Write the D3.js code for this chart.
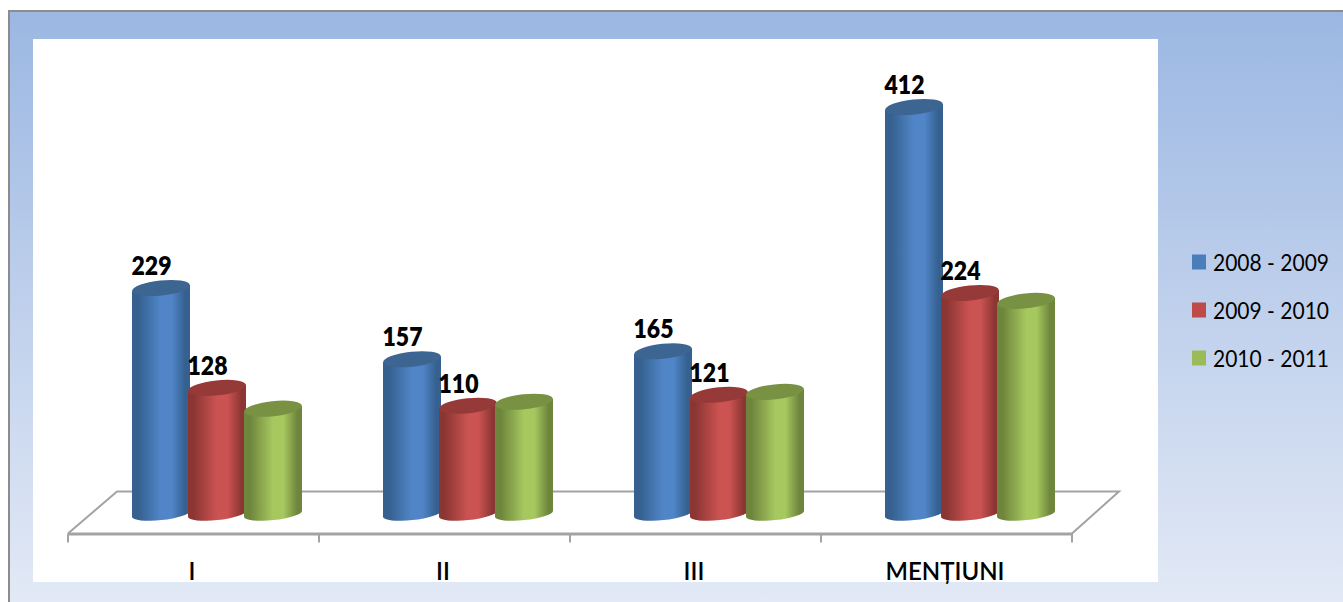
<!DOCTYPE html>
<html><head><meta charset="utf-8">
<script src="https://cdnjs.cloudflare.com/ajax/libs/d3/7.8.5/d3.min.js"></script>
<style>html,body{margin:0;padding:0;background:#fff;overflow:hidden}svg{display:block}text{font-family:Lato,"Open Sans",sans-serif}</style>
</head><body><div id="chart"></div>
<script>
const categories = ["I","II","III","MENȚIUNI"];
const seriesNames = ["2008 - 2009","2009 - 2010","2010 - 2011"];
const values0809 = [229,157,165,412];
const values0910 = [128,110,121,224];
const values1011 = [107,114,124,216];
const showLabels = [true,true,false];
const seriesColors = [
  {edge:"#35608f",mid:"#5086c8",top:"#3d6592",key:"#4a7ebb"},
  {edge:"#8c3634",mid:"#cb5351",top:"#953a38",key:"#be4b48"},
  {edge:"#6e853c",mid:"#a6c85f",top:"#789143",key:"#9bbb59"}
];
const allSeries = [values0809,values0910,values1011];

const W=1343,H=602;
const svg=d3.select("#chart").append("svg").attr("width",W).attr("height",H);
const defs=svg.append("defs");
const bg=defs.append("linearGradient").attr("id","bg").attr("x1",0).attr("x2",0).attr("y1",0).attr("y2",1);
bg.append("stop").attr("offset",0).attr("stop-color","#9bb7e2");
bg.append("stop").attr("offset",1).attr("stop-color","#e4eaf6");
seriesColors.forEach((c,i)=>{
  const g=defs.append("linearGradient").attr("id","cyl"+i);
  [[0,c.edge],[.1,c.edge],[.5,c.mid],[.68,c.mid],[.92,c.edge],[1,c.edge]].forEach(s=>
    g.append("stop").attr("offset",s[0]).attr("stop-color",s[1]));
});

// frame and panel
svg.append("rect").attr("x",9).attr("y",11).attr("width",W).attr("height",H)
  .attr("fill","url(#bg)").attr("stroke","#8c8c8c").attr("stroke-width",2);
svg.append("rect").attr("x",33).attr("y",39).attr("width",1125).attr("height",543).attr("fill","#fff");

const plot=svg.append("g");
const x=d3.scaleBand().domain(categories).range([68,1072]);
const y=d3.scaleLinear().domain([0,412]).range([514.5,107]);
const depthShift=24;
const barStep=56, r=29, ry=7.5, baseRy=6, tilt=-6;
const inner=d3.scaleBand().domain(d3.range(3)).range([-barStep*1.5,barStep*1.5]);
const dy=r*Math.sin(-tilt*Math.PI/180);

// floor
const floorFront=533.5, floorBack=491.5, floorColor="#a3a3a3";
const floor=plot.append("g").attr("fill","none").attr("stroke",floorColor);
floor.append("path").attr("stroke-width",2)
  .attr("d",d3.line()([[x.range()[0],floorFront],[x.range()[0]+49,floorBack],[x.range()[1]+47,floorBack],[x.range()[1],floorFront]]));

// axis
const axis=plot.append("g").attr("transform",`translate(0,${floorFront})`)
  .call(d3.axisBottom(x).tickSize(0).tickPadding(29));
axis.select(".domain").attr("stroke",floorColor).attr("stroke-width",3);
axis.selectAll("text").attr("font-size",24).attr("font-weight",600).attr("fill","#000").attr("font-family","Lato")
  .attr("dx",-1.5).attr("text-anchor","middle");
axis.selectAll(".bound").data(d3.range(categories.length+1)).enter().append("line").attr("class","bound")
  .attr("x1",i=>x.range()[0]+i*x.step()).attr("x2",i=>x.range()[0]+i*x.step())
  .attr("y1",0).attr("y2",9).attr("stroke",floorColor).attr("stroke-width",2);

// cylinders
const groups=plot.selectAll(".cat").data(categories).enter().append("g").attr("class","cat")
  .attr("transform",d=>`translate(${x(d)+x.bandwidth()/2+depthShift-0.5},0)`);
allSeries.forEach((vals,s)=>{
  const cx=inner(s)+inner.bandwidth()/2;
  groups.each(function(cat,i){
    const g=d3.select(this), v=vals[i], ty=y(v), by=y(0)-0.5;
    g.append("path").attr("fill",`url(#cyl${s})`)
      .attr("d",`M${cx-r},${ty+dy}L${cx-r},${by+dy}A${r},${baseRy} ${tilt} 0 0 ${cx+r},${by-dy}L${cx+r},${ty-dy}Z`);
    g.append("ellipse").attr("cx",cx).attr("cy",ty).attr("rx",r).attr("ry",ry)
      .attr("transform",`rotate(${tilt} ${cx} ${ty})`).attr("fill",seriesColors[s].top);
  });
});
// data labels
allSeries.forEach((vals,s)=>{
  if(!showLabels[s]) return;
  const cx=inner(s)+inner.bandwidth()/2;
  groups.append("text").text((d,i)=>vals[i])
    .attr("x",cx-9.5).attr("y",(d,i)=>y(vals[i])-13)
    .attr("text-anchor","middle").attr("font-size",26).attr("font-weight",800).attr("fill","#000")
    .attr("textLength",40).attr("lengthAdjust","spacingAndGlyphs");
});

// legend
const legend=svg.selectAll(".lg").data(seriesNames).enter().append("g").attr("class","lg")
  .attr("transform",(d,i)=>`translate(1192,${262+i*48})`);
legend.append("rect").attr("y",-7.5).attr("width",14).attr("height",15).attr("fill",(d,i)=>seriesColors[i].key);
legend.append("text").text(d=>d).attr("x",21).attr("y",8.5).attr("font-size",22.5).attr("fill","#000")
  .attr("textLength",116).attr("lengthAdjust","spacingAndGlyphs");
</script></body></html>
